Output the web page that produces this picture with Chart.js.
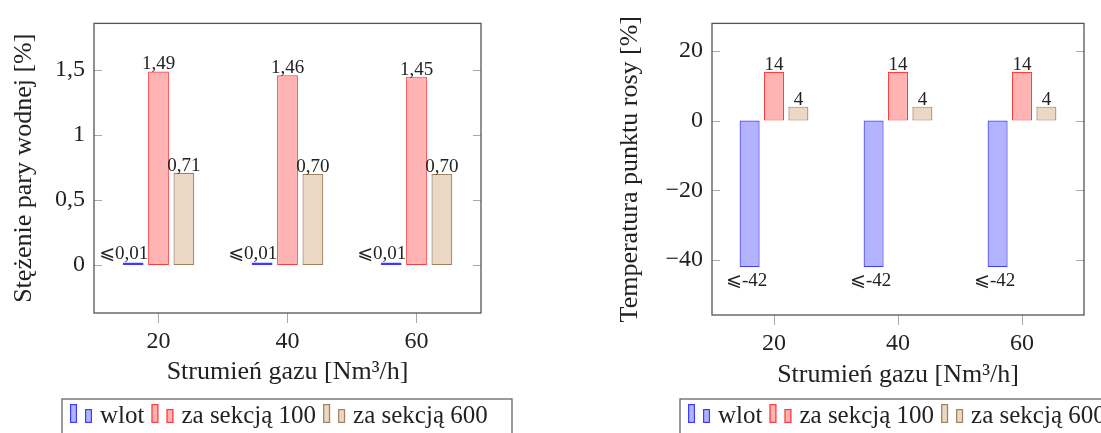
<!DOCTYPE html>
<html>
<head>
<meta charset="utf-8">
<script src="https://cdn.jsdelivr.net/npm/chart.js@4.4.1/dist/chart.umd.min.js"></script>
<style>
  html, body { margin: 0; padding: 0; background: #fff; }
  body { width: 1101px; height: 433px; overflow: hidden; position: relative; }
  .panel { position: absolute; top: 0; }
</style>
</head>
<body>
<div class="panel" style="left:0px"><canvas id="steamChart" width="550" height="433"></canvas></div>
<div class="panel" style="left:550px"><canvas id="dewChart" width="551" height="433"></canvas></div>
<script>
// categories (gas flow, Nm3/h) and series names
const categories = ['20', '40', '60'];
const seriesNames = ['wlot', 'za sekcją 100', 'za sekcją 600'];

// left chart: water vapour concentration [%]
const steamInlet = [0.01, 0.01, 0.01];
const steamSec100 = [1.49, 1.46, 1.45];
const steamSec600 = [0.71, 0.70, 0.70];
const steamTicks = [0, 0.5, 1, 1.5];

// right chart: dew point temperature
const dewInlet = [-42, -42, -42];
const dewSec100 = [14, 14, 14];
const dewSec600 = [4, 4, 4];
const dewTicks = [-40, -20, 0, 20];

const fills = ['rgb(179,179,255)', 'rgb(255,179,179)', 'rgb(234,216,196)'];
const borders = ['rgb(60,60,255)', 'rgb(255,60,60)', 'rgb(160,128,96)'];

const serif = "'Liberation Serif', 'DejaVu Serif', 'DejaVu Sans', serif";
Chart.defaults.font.family = serif;
Chart.defaults.color = '#222';

// pgfplots-like frame: full box and short inside tick marks on both y sides
const pgfFrame = {
  id: 'pgfFrame',
  afterDatasetsDraw(chart) {
    const {ctx, chartArea: a} = chart;
    const y = chart.scales.y;
    ctx.save();
    ctx.strokeStyle = '#aaa';
    ctx.lineWidth = 1;
    y.ticks.forEach(t => {
      const py = Math.round(y.getPixelForValue(t.value)) + 0.5;
      ctx.beginPath();
      ctx.moveTo(a.left, py); ctx.lineTo(a.left + 8, py);
      ctx.moveTo(a.right - 8, py); ctx.lineTo(a.right, py);
      ctx.stroke();
    });
    ctx.strokeStyle = '#555';
    ctx.lineWidth = 1.3;
    ctx.strokeRect(a.left, a.top, a.right - a.left, a.bottom - a.top);
    ctx.restore();
  }
};

// nodes near coords
const barLabels = {
  id: 'barLabels',
  afterDatasetsDraw(chart) {
    const ctx = chart.ctx;
    ctx.save();
    ctx.font = '19px ' + serif;
    ctx.fillStyle = '#222';
    ctx.textAlign = 'center';
    ctx.textBaseline = 'alphabetic';
    chart.data.datasets.forEach((ds, i) => {
      chart.getDatasetMeta(i).data.forEach((bar, j) => {
        const text = ds.labelText(ds.data[j]);
        let x = bar.x, y = bar.y - 2;
        if (ds.labelPos === 'left') { x = bar.x - bar.width / 2 + 1; y = bar.y - 3; }
        if (ds.labelPos === 'below') { x = bar.x - 3; y = bar.y + 19; }
        ctx.fillText(text, x, y);
      });
    });
    ctx.restore();
  }
};

// boxed legend below the axis, pgfplots ybar style (two small bars per entry)
const boxLegend = {
  id: 'boxLegend',
  afterDraw(chart, args, opts) {
    const ctx = chart.ctx;
    const top = 399, base = 423;
    ctx.save();
    ctx.strokeStyle = '#666';
    ctx.lineWidth = 1.3;
    ctx.strokeRect(opts.left, top, 450, 60);
    ctx.font = '25px ' + serif;
    ctx.textBaseline = 'alphabetic';
    ctx.textAlign = 'left';
    let x = opts.left + 8;
    chart.data.datasets.forEach(ds => {
      [19, 14].forEach(h => {
        ctx.fillStyle = ds.backgroundColor;
        ctx.fillRect(x, base - h, 7, h);
        ctx.strokeStyle = ds.borderColor;
        ctx.lineWidth = 1.2;
        ctx.strokeRect(x + 0.6, base - h + 0.6, 5.8, h - 1.2);
        x += 15;
      });
      ctx.fillStyle = '#222';
      ctx.fillText(ds.label, x, base);
      x += ctx.measureText(ds.label).width + 7;
    });
    ctx.restore();
  }
};

function makeDatasets(values, formats, positions) {
  return values.map((vals, i) => ({
    label: seriesNames[i],
    data: vals,
    backgroundColor: fills[i],
    borderColor: borders[i],
    borderWidth: 1.2,
    borderSkipped: false,
    minBarLength: 2.5,
    categoryPercentage: 0.59,
    barPercentage: 0.82,
    labelText: formats[i],
    labelPos: positions[i]
  }));
}

function makeChart(id, datasets, yOpts, pad, yWidth, xHeight, xTitlePad, yTitle, tickFmt, legendLeft) {
  return new Chart(document.getElementById(id), {
    type: 'bar',
    data: { labels: categories, datasets: datasets },
    options: {
      responsive: false,
      animation: false,
      layout: { padding: pad },
      plugins: {
        legend: { display: false },
        tooltip: { enabled: false },
        boxLegend: { left: legendLeft }
      },
      scales: {
        x: {
          grid: { offset: false, drawOnChartArea: false, drawTicks: true, tickLength: 10, color: '#aaa' },
          border: { display: false },
          ticks: { padding: 4, font: { size: 24 } },
          title: { display: true, text: 'Strumień gazu [Nm³/h]', font: { size: 26 }, padding: { bottom: xTitlePad } },
          afterFit: s => { s.height = xHeight; }
        },
        y: {
          min: yOpts.min,
          max: yOpts.max,
          afterBuildTicks: s => { s.ticks = yOpts.ticks.map(v => ({ value: v })); },
          afterFit: s => { s.width = yWidth; },
          grid: { display: false, drawTicks: false },
          border: { display: false },
          ticks: { padding: 9, font: { size: 24 }, callback: tickFmt },
          title: { display: true, text: yTitle, font: { size: 26 }, padding: { top: 9 } }
        }
      }
    },
    plugins: [pgfFrame, barLabels, boxLegend]
  });
}

const comma = v => v.toFixed(2).replace('.', ',');
makeChart('steamChart',
  makeDatasets([steamInlet, steamSec100, steamSec600],
    [v => '⩽' + comma(v), comma, comma], ['left', 'above', 'above']),
  { min: -0.37, max: 1.86, ticks: steamTicks },
  { left: 0, top: 16, right: 69, bottom: 38 }, 94, 82, 7,
  'Stężenie pary wodnej [%]', v => String(v).replace('.', ','), 62);

makeChart('dewChart',
  makeDatasets([dewInlet, dewSec100, dewSec600],
    [v => '⩽' + v, v => String(v), v => String(v)], ['below', 'above', 'above']),
  { min: -55.8, max: 27.9, ticks: dewTicks },
  { left: 56, top: 14, right: 17, bottom: 38 }, 106, 80, 4,
  'Temperatura punktu rosy [%]', v => String(v).replace('-', '\u2212'), 130);
</script>
</body>
</html>
